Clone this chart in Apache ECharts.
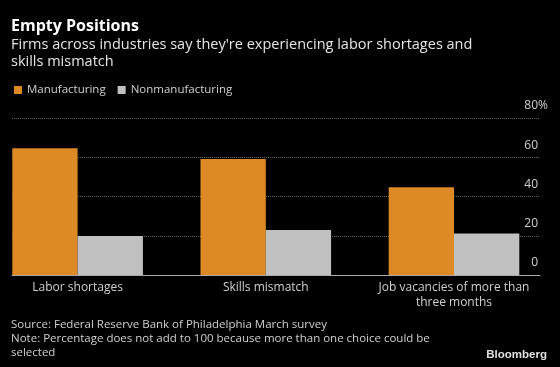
<!DOCTYPE html>
<html>
<head>
<meta charset="utf-8">
<style>html,body{margin:0;padding:0;background:#000;}#c{width:560px;height:367px;}</style>
<script src="https://cdn.jsdelivr.net/npm/echarts@6/dist/echarts.min.js"></script>
</head>
<body>
<div id="c"></div>
<script>
const categories = ['Labor shortages', 'Skills mismatch', 'Job vacancies of more than\nthree months'];
const manufacturing = [64.6, 59.1, 44.7];
const nonmanufacturing = [19.9, 22.9, 21.2];
const yMin = 0, yMax = 80, yStep = 20;
const seriesNames = ['Manufacturing', 'Nonmanufacturing'];
const titleText = 'Empty Positions';
const subtitleText = "Firms across industries say they're experiencing labor shortages and\nskills mismatch";
const footerText = 'Source: Federal Reserve Bank of Philadelphia March survey\nNote: Percentage does not add to 100 because more than one choice could be\nselected';

const FONT = '"Open Sans", "Liberation Sans", sans-serif';
const chart = echarts.init(document.getElementById('c'));
chart.setOption({
  backgroundColor: '#000',
  animation: false,
  textStyle: { fontFamily: FONT },
  title: [
    { text: titleText, left: 11, top: 17, padding: 0,
      textStyle: { color: '#fff', fontSize: 16, fontWeight: 'bold', lineHeight: 18, fontFamily: FONT } },
    { text: subtitleText, left: 11, top: 36, padding: 0,
      textStyle: { color: '#e6e6e6', fontSize: 14.5, fontWeight: 'normal', lineHeight: 17.5, fontFamily: FONT } },
    { text: footerText, left: 11, top: 318, padding: 0,
      textStyle: { color: '#d0d0d0', fontSize: 11.5, fontWeight: 'normal', lineHeight: 14, fontFamily: FONT } },
    { text: 'Bloomberg', right: 13, top: 348, padding: 0,
      textStyle: { color: '#e0e0e0', fontSize: 11.5, fontWeight: 'bold', lineHeight: 14, fontFamily: '"Liberation Sans", Arial, sans-serif' } }
  ],
  legend: {
    left: 14, top: 84, padding: 0, icon: 'rect', itemWidth: 8, itemHeight: 8, itemGap: 12,
    data: seriesNames,
    textStyle: { color: '#d0d0d0', fontSize: 11.5, fontFamily: FONT }
  },
  grid: [
    { left: 12, right: 20, top: 118, bottom: 92 },
    { left: 77.6, width: 376.4, top: 118, bottom: 92 }
  ],
  xAxis: [
    { gridIndex: 0, type: 'value', min: 0, max: 1,
      axisLine: { show: true, lineStyle: { color: '#aaa', width: 1 } },
      axisTick: { show: false }, axisLabel: { show: false }, splitLine: { show: false } },
    { gridIndex: 1, type: 'category', data: categories, boundaryGap: false,
      axisLine: { show: false }, axisTick: { show: false }, splitLine: { show: false },
      axisLabel: { color: '#d0d0d0', fontSize: 12, lineHeight: 15, margin: 5, interval: 0, fontFamily: FONT } }
  ],
  yAxis: [
    { gridIndex: 0, type: 'value', position: 'right', min: yMin, max: yMax, interval: yStep,
      axisLine: { show: false }, axisTick: { show: false },
      splitLine: { show: true, lineStyle: { color: '#666', type: 'dotted', width: 1 } },
      axisLabel: {
        inside: true, margin: -8, verticalAlign: 'bottom', padding: [0, 0, 5, 0],
        color: '#d0d0d0', fontSize: 12, lineHeight: 14, fontFamily: FONT,
        formatter: v => v === yMax ? v + '{pct|%}' : v + '{hid|%}',
        rich: {
          pct: { color: '#d0d0d0', fontSize: 12, lineHeight: 14, fontFamily: FONT },
          hid: { color: 'rgba(0,0,0,0)', fontSize: 12, lineHeight: 14, fontFamily: FONT }
        }
      } },
    { gridIndex: 1, type: 'value', min: yMin, max: yMax, show: false }
  ],
  series: [
    { name: seriesNames[0], type: 'bar', xAxisIndex: 1, yAxisIndex: 1, data: manufacturing, clip: false,
      barWidth: 65.3, barGap: '0%', itemStyle: { color: '#dd8a26' } },
    { name: seriesNames[1], type: 'bar', xAxisIndex: 1, yAxisIndex: 1, data: nonmanufacturing, clip: false,
      barWidth: 65.3, barGap: '0%', itemStyle: { color: '#c0c0c0' } }
  ]
});
</script>
</body>
</html>
